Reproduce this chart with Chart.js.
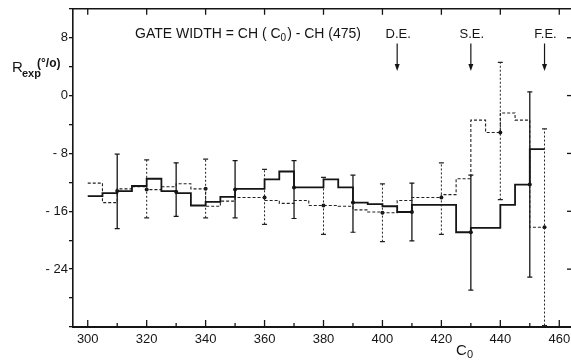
<!DOCTYPE html>
<html><head><meta charset="utf-8">
<script src="https://cdn.jsdelivr.net/npm/chart.js@4.4.1/dist/chart.umd.min.js"></script>
<style>html,body{margin:0;padding:0;background:#fff;overflow:hidden}canvas{display:block}</style>
</head><body>
<canvas id="c" width="580" height="360"></canvas>
<script>
// channel edges of the 5-channel bins (last entry closes the final bin)
const edges = [300,305,310,315,320,325,330,335,340,345,350,355,360,365,370,375,380,385,390,395,400,405,410,415,420,425,430,435,440,445,450,455];
// solid histogram, value of each bin starting at edges[i]
const solidY = [-13.9,-13.5,-13.2,-12.5,-11.5,-13.2,-13.5,-15.2,-14.7,-14.0,-12.9,-12.9,-11.6,-10.5,-12.7,-12.7,-11.6,-12.7,-14.8,-15.0,-15.3,-16.1,-15.1,-15.1,-15.1,-18.9,-18.3,-18.3,-15.1,-12.3,-7.4];
// dashed histogram
const dashY = [-12.1,-14.8,-12.9,-12.6,-13.0,-12.6,-12.2,-12.9,-15.3,-14.6,-14.1,-14.1,-14.5,-14.9,-14.5,-15.2,-15.2,-15.3,-15.8,-16.1,-16.2,-14.5,-14.1,-14.1,-13.7,-11.5,-3.4,-5.1,-2.4,-3.4,-18.2];

// error bars, solid series
const solidErrX  = [310,330,350,370,390,410,430,450];
const solidErrMid= [-13.2,-13.3,-13.0,-12.7,-14.8,-16.1,-18.9,-12.3];
const solidErrLo = [-18.4,-16.7,-16.9,-17.0,-18.9,-20.1,-26.9,-25.1];
const solidErrHi = [-8.1,-9.3,-9.0,-9.0,-11.0,-12.1,-11.0,0.5];
// error bars, dashed series
const dashErrX  = [320,340,360,380,400,420,440,455];
const dashErrMid= [-13.0,-12.9,-14.1,-15.2,-16.2,-14.1,-5.1,-18.2];
const dashErrLo = [-16.9,-16.9,-17.8,-19.2,-20.2,-19.2,-14.4,-31.8];
const dashErrHi = [-8.9,-8.8,-10.2,-11.3,-12.2,-9.3,4.6,-4.6];

// escape peaks marked with arrows
const markX = [405,430,455];
const markLabels = ['D.E.','S.E.','F.E.'];

const xLabels = [300,320,340,360,380,400,420,440,460];
const yTicks = [12,8,4,0,-4,-8,-12,-16,-20,-24,-28,-32];
const yLabels = [8,0,-8,-16,-24];

const FONT = '"Liberation Sans", Arial, sans-serif';
const INK = '#151515';

function steps(ys){
  const pts = ys.map((y,i)=>({x:edges[i],y}));
  pts.push({x:edges[edges.length-1], y:ys[ys.length-1]});
  return pts;
}
function bars(xs,lo,hi){
  const out=[];
  xs.forEach((x,i)=>{ out.push({x,y:lo[i]},{x,y:hi[i]},{x,y:null}); });
  return out;
}
function dots(xs,ys){ return xs.map((x,i)=>({x,y:ys[i]})); }

const frame = {
  id:'frame',
  afterDraw(chart){
    const {ctx, chartArea:a, scales:{x,y}} = chart;
    const seg=(x1,y1,x2,y2)=>{ctx.beginPath();ctx.moveTo(x1,y1);ctx.lineTo(x2,y2);ctx.stroke();};
    ctx.save();
    ctx.strokeStyle=INK; ctx.fillStyle=INK;
    ctx.lineWidth=1.4;
    seg(a.left,a.top,a.right,a.top);
    ctx.lineWidth=1.3;
    for(let v=300; v<=460; v+=10){
      const px=x.getPixelForValue(v);
      seg(px,a.bottom,px,a.bottom-(v%20===0?7:4));
    }
    xLabels.forEach(v=>{ const px=x.getPixelForValue(v); seg(px,a.top,px,a.top+6); });
    yLabels.forEach(v=>{ const py=y.getPixelForValue(v); seg(a.right,py,a.right-7,py); });

    // header text
    ctx.textBaseline='alphabetic';
    ctx.textAlign='left';
    let tx = 135, ty = 38;
    const parts = [['GATE WIDTH = CH ( C',14,0],['0',10,3],[') - CH (475)',14,0]];
    parts.forEach(([s,sz,dy])=>{ ctx.font=sz+'px '+FONT; ctx.fillText(s,tx,ty+dy); tx+=ctx.measureText(s).width+(sz<13?1:0); });

    // arrows
    ctx.font='13px '+FONT; ctx.textAlign='center';
    markX.forEach((v,i)=>{
      const px=x.getPixelForValue(v);
      ctx.fillText(markLabels[i],px+1,38);
      ctx.lineWidth=1.2;
      seg(px,y.getPixelForValue(7.2),px,y.getPixelForValue(4));
      const tip=y.getPixelForValue(3.4);
      ctx.beginPath(); ctx.moveTo(px-2.5,tip-7); ctx.lineTo(px+2.5,tip-7); ctx.lineTo(px,tip); ctx.closePath(); ctx.fill();
    });

    // axis titles
    ctx.textAlign='left';
    ctx.font='15px '+FONT; ctx.fillText('R',12,72);
    ctx.font='bold 11px '+FONT; ctx.fillText('exp',22,77);
    ctx.font='bold 12px '+FONT; ctx.fillText('(°/o)',37,67);
    ctx.font='15px '+FONT; ctx.fillText('C',456,355);
    ctx.font='11px '+FONT; ctx.fillText('0',467,358);
    ctx.restore();
  }
};

new Chart(document.getElementById('c').getContext('2d'),{
  type:'line',
  data:{datasets:[
    {data:steps(solidY),stepped:true,borderColor:INK,borderWidth:1.8,pointRadius:0,fill:false},
    {data:steps(dashY),stepped:true,borderColor:'#222',borderWidth:1.1,borderDash:[3,2],pointRadius:0,fill:false},
    {data:bars(solidErrX,solidErrLo,solidErrHi),borderColor:INK,borderWidth:1.3,spanGaps:false,
      pointStyle:'line',pointRadius:2.5,pointBorderWidth:1.2,pointBorderColor:INK},
    {data:bars(dashErrX,dashErrLo,dashErrHi),borderColor:'#222',borderWidth:1,borderDash:[2,2],spanGaps:false,
      pointStyle:'line',pointRadius:2.5,pointBorderWidth:1.2,pointBorderColor:'#222'},
    {data:dots(solidErrX,solidErrMid),showLine:false,pointRadius:2,pointBackgroundColor:INK,pointBorderWidth:0},
    {data:dots(dashErrX,dashErrMid),showLine:false,pointRadius:2,pointBackgroundColor:INK,pointBorderWidth:0}
  ]},
  options:{
    responsive:false,animation:false,
    layout:{padding:{top:8,right:6,left:0,bottom:0}},
    plugins:{legend:{display:false},tooltip:{enabled:false}},
    scales:{
      x:{type:'linear',min:295,max:465,
        afterBuildTicks(s){ s.ticks = xLabels.map(v=>({value:v})); },
        afterFit(s){ s.height = 33; },
        grid:{display:false,drawTicks:false},
        border:{display:true,color:INK,width:2},
        ticks:{autoSkip:false,maxRotation:0,padding:5,color:INK,font:{family:FONT,size:13},callback:v=>String(v)}},
      y:{type:'linear',min:-32,max:12,
        afterBuildTicks(s){ s.ticks = yTicks.map(v=>({value:v})); },
        afterFit(s){ s.width = 73; },
        grid:{display:true,drawOnChartArea:false,drawTicks:true,tickLength:4,color:INK,lineWidth:1.3},
        border:{display:true,color:INK,width:1.6},
        ticks:{autoSkip:false,padding:1,color:INK,font:{family:FONT,size:13},
          callback:v=>yLabels.includes(v)?(v<0?'- '+Math.abs(v):String(v)):''}}
    }
  },
  plugins:[frame]
});
</script></body></html>
